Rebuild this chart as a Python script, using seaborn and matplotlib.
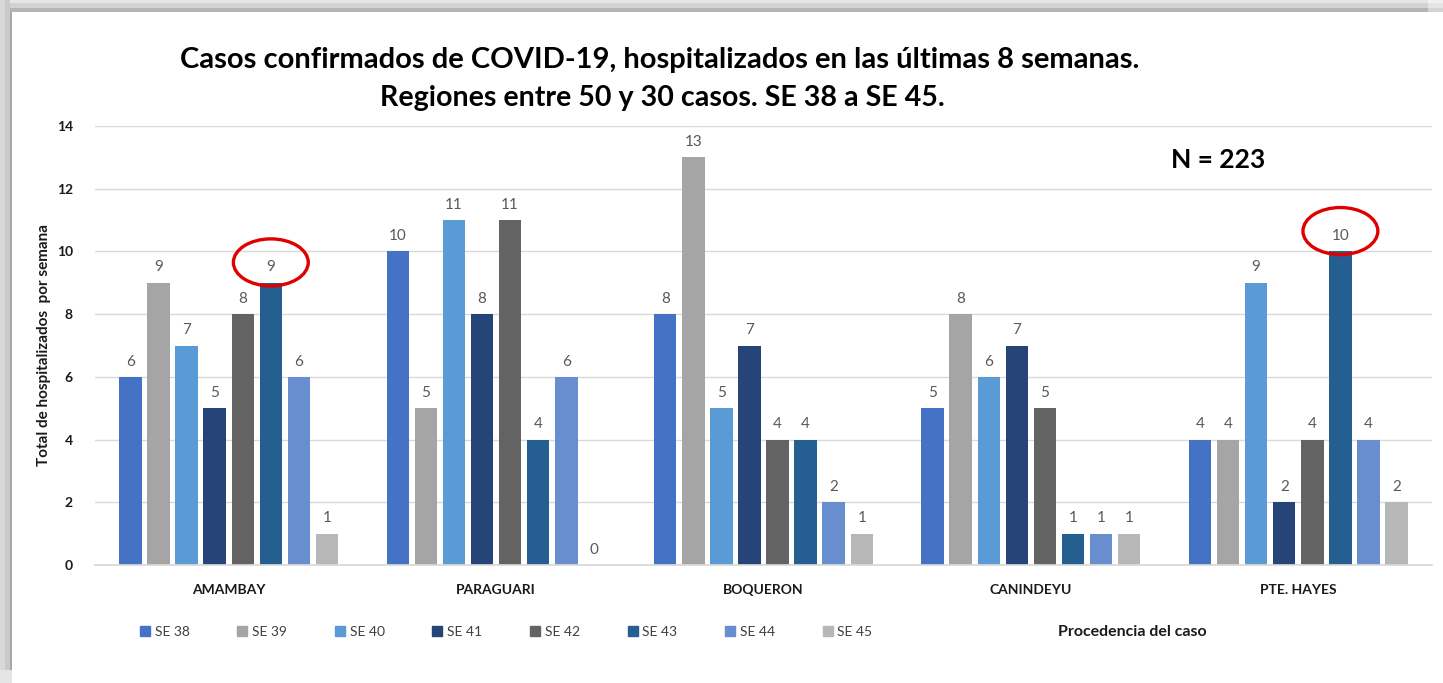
import matplotlib
matplotlib.use("Agg")
import matplotlib.pyplot as plt
from matplotlib.patches import Ellipse, Rectangle
from matplotlib.lines import Line2D
import seaborn as sns
import pandas as pd

# Hospitalised confirmed cases per epidemiological week, by region
regions = ["AMAMBAY", "PARAGUARI", "BOQUERON", "CANINDEYU", "PTE. HAYES"]
weeks = ["SE 38", "SE 39", "SE 40", "SE 41", "SE 42", "SE 43", "SE 44", "SE 45"]
amambay = [6, 9, 7, 5, 8, 9, 6, 1]
paraguari = [10, 5, 11, 8, 11, 4, 6, 0]
boqueron = [8, 13, 5, 7, 4, 4, 2, 1]
canindeyu = [5, 8, 6, 7, 5, 1, 1, 1]
pte_hayes = [4, 4, 9, 2, 4, 10, 4, 2]
total_n = 223
highlighted = [("AMAMBAY", "SE 43"), ("PTE. HAYES", "SE 43")]

colors = ["#4472C4", "#A5A5A5", "#5B9BD5", "#264478",
          "#636363", "#255E91", "#698ED0", "#B7B7B7"]

rows = []
for region, vals in zip(regions, [amambay, paraguari, boqueron, canindeyu, pte_hayes]):
    for week, v in zip(weeks, vals):
        rows.append({"region": region, "week": week, "value": v})
df = pd.DataFrame(rows)

sns.set_theme(style="white")
plt.rcParams["font.family"] = ["Lato", "DejaVu Sans"]

W, H = 1443, 683
fig = plt.figure(figsize=(W / 100, H / 100), dpi=100)
fig.patch.set_facecolor("white")
fig.patch.set_edgecolor("none")
ax = fig.add_axes([95 / W, 1 - 565 / H, (1432 - 95) / W, (565 - 126) / H])
ax.patch.set_visible(False)

sns.barplot(data=df, x="region", y="value", hue="week", order=regions,
            hue_order=weeks, palette=colors, width=0.84, gap=0.2,
            saturation=1, linewidth=0, ax=ax, legend=False)

ax.set_ylim(0, 14)
ax.set_yticks(range(0, 15, 2))
ax.set_xlim(-0.5, len(regions) - 0.5)
ax.yaxis.grid(True, color="#D9D9D9", linewidth=1)
ax.set_axisbelow(True)
for side in ["top", "right", "left"]:
    ax.spines[side].set_visible(False)
ax.spines["bottom"].set_color("#D9D9D9")
ax.tick_params(axis="y", length=0, labelsize=10, colors="#1a1a1a", pad=16)
ax.tick_params(axis="x", length=0, labelsize=10, colors="#1a1a1a", pad=14)
for lab in ax.get_xticklabels() + ax.get_yticklabels():
    lab.set_fontweight("bold")
ax.set_xlabel("")
ax.set_ylabel("Total de hospitalizados  por semana", fontsize=11,
              fontweight="bold", color="#1a1a1a", labelpad=4)

# value labels above each bar
for cont in ax.containers:
    ax.bar_label(cont, fmt="%d", padding=6, fontsize=11, color="#595959")

# red rings around the highlighted values
for region, week in highlighted:
    ci = weeks.index(week)
    ri = regions.index(region)
    bar = ax.containers[ci].patches[ri]
    xc = bar.get_x() + bar.get_width() / 2
    yc = bar.get_height() + 0.65
    ax.add_patch(Ellipse((xc, yc), width=0.28, height=1.5, fill=False,
                         edgecolor="#E00000", linewidth=2.4, clip_on=False))

# titles and annotations
fig.text(660 / W, 1 - 60 / H,
         "Casos confirmados de COVID-19, hospitalizados en las últimas 8 semanas.",
         ha="center", va="center", fontsize=21, fontweight="bold", color="black")
fig.text(662 / W, 1 - 98 / H, "Regiones entre 50 y 30 casos. SE 38 a SE 45.",
         ha="center", va="center", fontsize=20.6, fontweight="bold", color="black")
fig.text(1218 / W, 1 - 160 / H, f"N = {total_n}", ha="center", va="center",
         fontsize=19, fontweight="bold", color="black")
fig.text(1132 / W, 1 - 632 / H, "Procedencia del caso", ha="center", va="center",
         fontsize=11.5, fontweight="bold", color="#1a1a1a")

# legend
handles = [Line2D([0], [0], marker="s", linestyle="", markersize=7,
                  markerfacecolor=c, markeredgecolor=c) for c in colors]
fig.legend(handles, weeks, loc="center left", bbox_to_anchor=(127 / W, 1 - 632 / H),
           ncol=8, frameon=False, fontsize=10, handlelength=0.8,
           handletextpad=0.3, columnspacing=3.4, labelcolor="#404040")

# soft gray shadow along the top and left edges, fading at the far ends
for (x0, y0, w, h, c) in [
    (0, 0, 1428, 3, "#E6E6E6"), (0, 3, 1428, 5, "#D2D2D2"), (0, 8, 1428, 4, "#B5B5B5"),
    (1428, 0, W - 1428, 3, "#F0F0F0"), (1428, 3, W - 1428, 5, "#E4E4E4"),
    (1428, 8, W - 1428, 4, "#D4D4D4"),
    (0, 0, 5, 670, "#D8D8D8"), (5, 0, 5, 670, "#C9C9C9"), (10, 12, 2, 658, "#A8A8A8"),
    (0, 670, 12, H - 670, "#E4E4E4"),
]:
    fig.patches.append(Rectangle((x0 / W, 1 - (y0 + h) / H), w / W, h / H,
                                 transform=fig.transFigure, facecolor=c,
                                 edgecolor="none", zorder=-1))

fig.savefig("out.png", dpi=100)
